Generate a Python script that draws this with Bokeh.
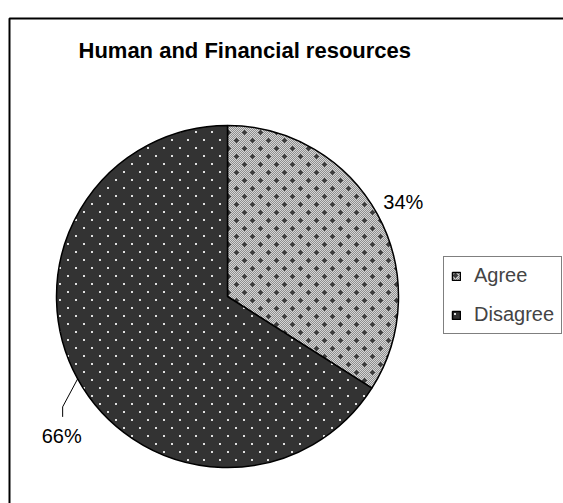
import numpy as np
from bokeh.plotting import figure
from bokeh.models import ColumnDataSource, Range1d, Legend, LegendItem, Label, CanvasTexture
from bokeh.core.properties import value
from bokeh.embed import file_html
from bokeh.resources import INLINE

# ---- data ----
title_text = "Human and Financial resources"
categories = ["Agree", "Disagree"]
percents = [34, 66]

# ---- styles ----
fill_colors = ["#ababab", "#333333"]
patterns = ["agree_tex", "disagree_tex"]
FONT = "Liberation Sans"

agree_code = """
const n = 16;
if (ctx.canvas) { ctx.canvas.width = n; ctx.canvas.height = n; }
for (let i = 0; i < n; i++) {
  for (let j = 0; j < n; j++) {
    ctx.fillStyle = ((i + j) % 2 == 0) ? '#d6d6d6' : '#8e8e8e';
    ctx.fillRect(i, j, 1, 1);
  }
}
ctx.fillStyle = '#3c3c3c';
const cr = (x, y) => { ctx.fillRect(x - 2, y, 5, 1); ctx.fillRect(x, y - 2, 1, 5); ctx.fillRect(x - 1, y - 1, 3, 3); };
cr(4, 4); cr(12, 12);
"""
disagree_code = """
const n = 16;
if (ctx.canvas) { ctx.canvas.width = n; ctx.canvas.height = n; }
ctx.fillStyle = '#333333';
ctx.fillRect(0, 0, n, n);
ctx.fillStyle = '#e0e0e0';
ctx.fillRect(3, 3, 2, 2);
ctx.fillRect(11, 11, 2, 2);
"""

W, H = 563, 503
p = figure(width=W, height=H, output_backend="svg", toolbar_location=None,
           x_range=Range1d(0, W), y_range=Range1d(0, H), min_border=0,
           outline_line_color=None, background_fill_color="white")
p.axis.visible = False
p.grid.visible = False

# outer chart border (extends beyond the window on right/bottom)
p.quad(left=[9], right=[W + 50], top=[485], bottom=[-50], fill_color=None,
       line_color="black", line_width=2)

cx, cy, R = 227, 207, 171
frac = np.array(percents, dtype=float) / sum(percents)
cum = np.concatenate([[0], np.cumsum(frac)])
start = np.pi / 2 - 2 * np.pi * cum[:-1]
end = np.pi / 2 - 2 * np.pi * cum[1:]
mid = (start + end) / 2

src = ColumnDataSource(dict(cat=categories, start=start, end=end,
                            fill=fill_colors, pat=patterns, x=[cx] * 2, y=[cy] * 2))
r = p.wedge(x="x", y="y", radius=R, start_angle="start", end_angle="end",
            direction="clock", fill_color="fill", line_color="black", line_width=1.5,
            hatch_pattern="pat", hatch_scale=16, hatch_weight=16, hatch_color="black",
            hatch_extra={"agree_tex": CanvasTexture(code=agree_code),
                         "disagree_tex": CanvasTexture(code=disagree_code)},
            source=src)

# labels
ax = cx + R * np.cos(mid[0])
ay = cy + R * np.sin(mid[0])
p.text(x=[ax + 6], y=[ay + 12], text=[f"{percents[0]}%"], text_font=value(FONT),
       text_font_size="20px", text_color="black", text_baseline="middle",
       text_align="left")
dx0 = cx + R * np.cos(mid[1])
dy0 = cy + R * np.sin(mid[1])
p.line(x=[dx0, dx0 - 15, dx0 - 15], y=[dy0, dy0 - 28, dy0 - 38], line_color="black",
       line_width=1)
p.text(x=[dx0 - 16], y=[dy0 - 57], text=[f"{percents[1]}%"], text_font=value(FONT),
       text_font_size="20px", text_color="black", text_baseline="middle",
       text_align="center")

# title
p.add_layout(Label(x=78, y=453, text=title_text, text_font=FONT, text_font_size="22px",
                   text_font_style="bold", text_color="black", text_baseline="middle"))

items = [LegendItem(label=c, renderers=[r], index=i) for i, c in enumerate(categories)]
legend = Legend(items=items, location=(443, 169), border_line_color="black",
                border_line_width=1, background_fill_color="white", background_fill_alpha=1,
                label_text_font=FONT, label_text_font_size="20px", glyph_width=10,
                glyph_height=10, label_standoff=13, padding=7, spacing=16, margin=0)
p.add_layout(legend, "center")

open("out.html", "w").write(file_html(p, INLINE))
